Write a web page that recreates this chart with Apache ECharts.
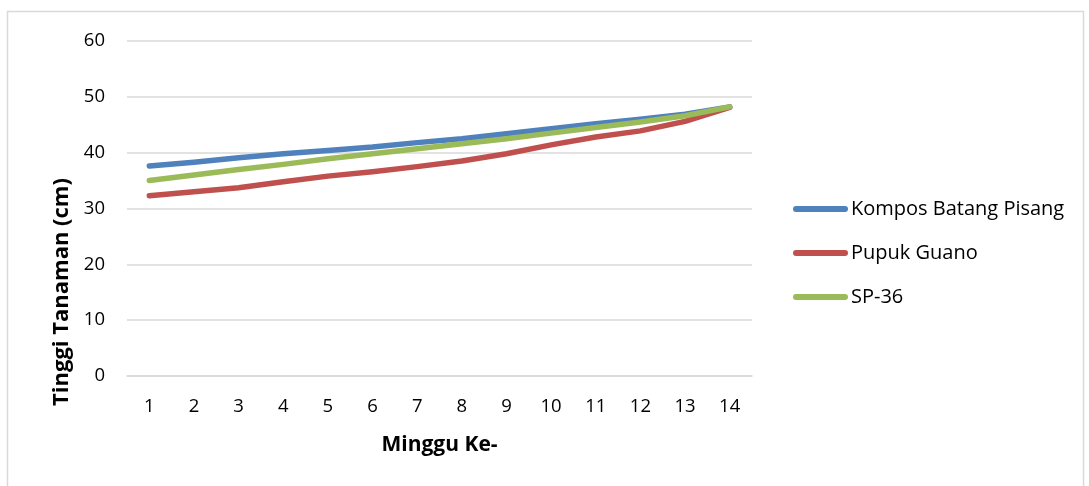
<!DOCTYPE html>
<html><head><meta charset="utf-8">
<script src="https://cdn.jsdelivr.net/npm/echarts@6/dist/echarts.min.js"></script>
<style>html,body{margin:0;padding:0;background:#fff;}#c{width:1089px;height:486px;}</style>
</head><body><div id="c"></div>
<script>
const weeks = ['1','2','3','4','5','6','7','8','9','10','11','12','13','14'];
const kompos = [37.6,38.3,39.1,39.8,40.4,41.0,41.8,42.5,43.4,44.3,45.2,46.0,46.9,48.2];
const guano  = [32.3,33.0,33.7,34.8,35.8,36.6,37.5,38.5,39.8,41.4,42.8,43.9,45.6,48.1];
const sp36   = [35.0,36.0,37.0,37.9,38.9,39.8,40.7,41.6,42.5,43.5,44.5,45.5,46.6,48.2];
const yTicks = {min:0, max:60, interval:10};
const yTitle = 'Tinggi Tanaman (cm)';
const xTitle = 'Minggu Ke-';

const chart = echarts.init(document.getElementById('c'));
const font = '"Open Sans", sans-serif';
const mk = (name, data, color) => ({
  name, type:'line', data, symbol:'none', smooth:false,
  lineStyle:{color, width:5.5, cap:'round', join:'round'}, itemStyle:{color}
});
chart.setOption({
  animation:false,
  graphic:[
    {type:'rect', shape:{x:7.5,y:11.5,width:1076,height:480}, style:{fill:'none', stroke:'#d9d9d9', lineWidth:1.5}},
    {type:'text', x:62, y:292, rotation:Math.PI/2,
      style:{text:yTitle, fontFamily:font, fontSize:22, fontWeight:'bold', fill:'#000', align:'center', verticalAlign:'middle'}}
  ],
  grid:{left:127, right:337, top:41, bottom:110, containLabel:false},
  xAxis:{type:'category', data:weeks, boundaryGap:true,
    name:xTitle, nameLocation:'middle', nameGap:59,
    nameTextStyle:{fontFamily:font, fontSize:21, fontWeight:'bold', color:'#000'},
    axisLine:{show:true, lineStyle:{color:'#d9d9d9', width:1.5}}, axisTick:{show:false},
    axisLabel:{fontFamily:font, fontSize:18.5, color:'#000', margin:21}},
  yAxis:{type:'value', min:yTicks.min, max:yTicks.max, interval:yTicks.interval,
    axisLine:{show:false}, axisTick:{show:false},
    axisLabel:{fontFamily:font, fontSize:18.5, color:'#000', margin:22},
    splitLine:{lineStyle:{color:'#d9d9d9', width:1.5}}},
  legend:{orient:'vertical', left:793, top:198, padding:0, itemWidth:55, itemHeight:14, itemGap:22,
    icon:'path://M3,0 L52,0 A3,3 0 0 1 52,6 L3,6 A3,3 0 0 1 3,0 Z',
    textStyle:{fontFamily:font, fontSize:20, color:'#000', lineHeight:22, padding:[0,0,0,-2]},
    data:['Kompos Batang Pisang','Pupuk Guano','SP-36']},
  series:[
    mk('Kompos Batang Pisang', kompos, '#4f81bd'),
    mk('Pupuk Guano', guano, '#c0504d'),
    mk('SP-36', sp36, '#9bbb59')
  ]
});
</script></body></html>
